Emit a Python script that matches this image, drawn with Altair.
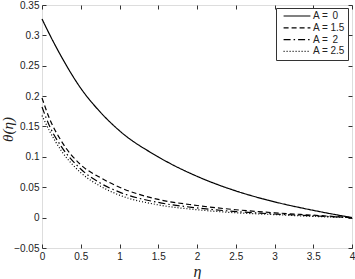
import altair as alt
import pandas as pd

eta = [0, 0.1, 0.25, 0.5, 0.75, 1, 1.5, 2, 2.5, 3, 3.5, 4]
a_0 = [0.327, 0.301, 0.265, 0.213, 0.174, 0.143, 0.100, 0.068, 0.044, 0.026, 0.012, 0.0]
a_15 = [0.197, 0.162, 0.126, 0.087, 0.066, 0.050, 0.030, 0.020, 0.013, 0.008, 0.004, 0.0]
a_2 = [0.182, 0.150, 0.117, 0.080, 0.057, 0.042, 0.025, 0.016, 0.010, 0.006, 0.003, 0.0]
a_25 = [0.168, 0.142, 0.110, 0.074, 0.052, 0.037, 0.021, 0.013, 0.008, 0.005, 0.002, 0.0]
labels = ["A = \u20090", "A = 1.5", "A = \u20092", "A = 2.5"]
x_ticks = [0, 0.5, 1, 1.5, 2, 2.5, 3, 3.5, 4]
y_ticks = [-0.05, 0, 0.05, 0.1, 0.15, 0.2, 0.25, 0.3, 0.35]

rows = []
for lab, ys in zip(labels, [a_0, a_15, a_2, a_25]):
    for e, v in zip(eta, ys):
        rows.append({"eta": e, "theta": v, "A": lab})
df = pd.DataFrame(rows)

font = "Liberation Sans"
xs = alt.Scale(domain=[0, 4], nice=False)
ys_ = alt.Scale(domain=[-0.05, 0.35], nice=False)

main = alt.Chart(df).mark_line(interpolate="monotone", color="black", strokeWidth=1.2).encode(
    x=alt.X("eta:Q", scale=xs, axis=alt.Axis(
        values=x_ticks, orient="bottom", offset=-4, tickSize=4, domain=False, grid=False,
        labelPadding=3, labelFontSize=10, labelFont=font, labelColor="#222",
        tickColor="#333", labelFlush=False, format="~g",
        title="η", titleFont="Liberation Serif", titleFontStyle="italic",
        titleFontWeight="normal", titleFontSize=16, titlePadding=2, titleColor="#222")),
    y=alt.Y("theta:Q", scale=ys_, axis=alt.Axis(
        values=y_ticks, orient="left", offset=-4, tickSize=4, domain=False, grid=False,
        labelPadding=3, labelFontSize=10, labelFont=font, labelColor="#222",
        tickColor="#333", labelFlush=False, format="~g",
        title="θ(η)", titleFont="Liberation Serif", titleFontStyle="italic",
        titleFontWeight="normal", titleFontSize=15, titleX=-31, titleY=124,
        titleColor="#222")),
    strokeDash=alt.StrokeDash("A:N", scale=alt.Scale(
        domain=labels, range=[[1, 0], [5, 3], [7, 3, 1.5, 3], [1, 2]]),
        legend=alt.Legend(title=None, orient="none", legendX=234, legendY=3,
                          symbolType="M-4,0H4", symbolSize=45, symbolStrokeWidth=1.2,
                          symbolStrokeColor="black", symbolFillColor="transparent",
                          symbolOffset=13,
                          labelFont=font, labelFontSize=10, labelColor="#222",
                          fillColor="white", strokeColor="#333", padding=3,
                          rowPadding=1.8, labelOffset=11)),
    order=alt.Order("eta:Q"),
)

frame = alt.Chart(df).mark_line(opacity=0).encode(
    x=alt.X("eta:Q", scale=xs, axis=alt.Axis(
        values=x_ticks, orient="top", offset=-4, tickSize=4, domain=False, grid=False,
        labels=False, title=None, tickColor="#333")),
    y=alt.Y("theta:Q", scale=ys_, axis=alt.Axis(
        values=y_ticks, orient="right", offset=-4, tickSize=4, domain=False, grid=False,
        labels=False, title=None, tickColor="#333")),
    detail="A:N",
)

chart = alt.layer(main, frame).resolve_axis(x="independent", y="independent").properties(
    width=310, height=243,
    autosize=alt.AutoSizeParams(type="none"),
    padding={"left": 42, "top": 5, "right": 3, "bottom": 31},
).configure_view(stroke="#333", strokeWidth=1).configure(background="white")

chart.save("out.html", embed_options={"renderer": "svg", "actions": False})
